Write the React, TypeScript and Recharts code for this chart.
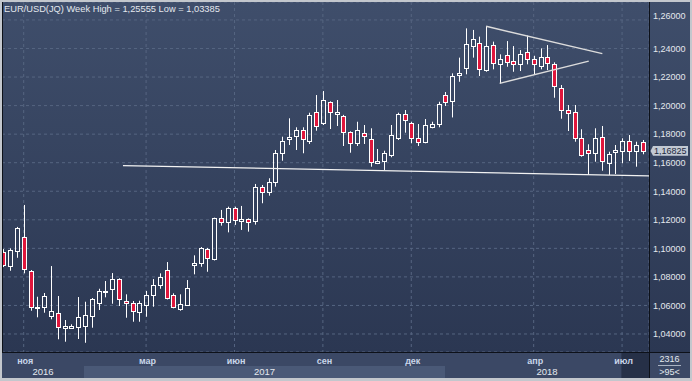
import { ComposedChart, Bar, XAxis, YAxis, CartesianGrid, ReferenceLine, ReferenceArea } from 'recharts'

// weekly EUR/USD candles
const OPEN = [
  1.0977, 1.0876, 1.0981, 1.1082, 1.0841, 1.0580, 1.0591, 1.0528, 1.0545, 1.0442,
  1.0440, 1.0451, 1.0458, 1.0528, 1.0619, 1.0699, 1.0713, 1.0785, 1.0629, 1.0617,
  1.0556, 1.0605, 1.0675, 1.0741, 1.0846, 1.0671, 1.0573, 1.0605, 1.0881, 1.0899,
  1.0995, 1.0923, 1.1210, 1.1182, 1.1281, 1.1194, 1.1203, 1.1194, 1.1428, 1.1397,
  1.1467, 1.1670, 1.1764, 1.1789, 1.1829, 1.1754, 1.1953, 1.1880, 1.2023, 1.1943,
  1.1927, 1.1813, 1.1740, 1.1806, 1.1764, 1.1596, 1.1614, 1.1654, 1.1771, 1.1939,
  1.1876, 1.1771, 1.1745, 1.1852, 1.1869, 1.2072, 1.2034, 1.2212, 1.2265, 1.2420,
  1.2436, 1.2249, 1.2424, 1.2289, 1.2354, 1.2314, 1.2289, 1.2373, 1.2326, 1.2279,
  1.2338, 1.2289, 1.2125, 1.1969, 1.1952, 1.1771, 1.1687, 1.1666, 1.1778, 1.1596,
  1.1673, 1.1680, 1.1750, 1.1684, 1.1745,
]
const HIGH = [
  1.0995, 1.1000, 1.1150, 1.1304, 1.0848, 1.0661, 1.0687, 1.0876, 1.0666, 1.0498,
  1.0468, 1.0659, 1.0626, 1.0652, 1.0717, 1.0771, 1.0827, 1.0790, 1.0678, 1.0631,
  1.0633, 1.0701, 1.0785, 1.0825, 1.0904, 1.0685, 1.0678, 1.0778, 1.0951, 1.1009,
  1.1003, 1.1215, 1.1269, 1.1292, 1.1292, 1.1297, 1.1210, 1.1451, 1.1444, 1.1491,
  1.1689, 1.1782, 1.1911, 1.1848, 1.1848, 1.1950, 1.2074, 1.2102, 1.2030, 1.2039,
  1.1935, 1.1820, 1.1887, 1.1864, 1.1841, 1.1696, 1.1684, 1.1864, 1.1950, 1.1969,
  1.1887, 1.1871, 1.1906, 1.1887, 1.2027, 1.2095, 1.2226, 1.2336, 1.2541, 1.2530,
  1.2483, 1.25555, 1.2448, 1.2359, 1.2452, 1.2417, 1.2389, 1.2490, 1.2349, 1.2401,
  1.2424, 1.2303, 1.2144, 1.2004, 1.2004, 1.1834, 1.1729, 1.1841, 1.1857, 1.1677,
  1.1724, 1.1771, 1.1794, 1.1747, 1.1759,
]
const LOW = [
  1.0869, 1.0843, 1.0934, 1.0825, 1.0563, 1.0517, 1.0549, 1.0503, 1.0363, 1.0346,
  1.0438, 1.0365, 1.03385, 1.0444, 1.0568, 1.0657, 1.0612, 1.0596, 1.0514, 1.0486,
  1.0486, 1.0521, 1.0591, 1.0717, 1.0642, 1.0580, 1.0563, 1.0600, 1.0818, 1.0871,
  1.0836, 1.0915, 1.1159, 1.1112, 1.1164, 1.1129, 1.1117, 1.1166, 1.1316, 1.1369,
  1.1432, 1.1614, 1.1724, 1.1689, 1.1666, 1.1731, 1.1824, 1.1864, 1.1836, 1.1857,
  1.1717, 1.1670, 1.1717, 1.1731, 1.1572, 1.1590, 1.1549, 1.1638, 1.1759, 1.1810,
  1.1736, 1.1717, 1.1736, 1.1841, 1.1848, 1.1997, 1.1917, 1.2167, 1.2219, 1.2336,
  1.2207, 1.2237, 1.2254, 1.2156, 1.2272, 1.2237, 1.2242, 1.2289, 1.2219, 1.2254,
  1.2249, 1.2055, 1.1908, 1.1822, 1.1747, 1.1642, 1.1514, 1.1607, 1.1544, 1.1514,
  1.1521, 1.1596, 1.1612, 1.1572, 1.1659,
]
const CLOSE = [
  1.0883, 1.0988, 1.1140, 1.0853, 1.0587, 1.0589, 1.0664, 1.0559, 1.0447, 1.0456,
  1.0456, 1.0519, 1.0533, 1.0645, 1.0701, 1.0703, 1.0785, 1.0643, 1.0615, 1.0559,
  1.0615, 1.0671, 1.0741, 1.0797, 1.0650, 1.0587, 1.0608, 1.0720, 1.0895, 1.1000,
  1.0930, 1.1210, 1.1182, 1.1281, 1.1199, 1.1203, 1.1187, 1.1428, 1.1397, 1.1467,
  1.1670, 1.1752, 1.1778, 1.1829, 1.1764, 1.1934, 1.1857, 1.2037, 1.1953, 1.1953,
  1.1817, 1.1736, 1.1827, 1.1785, 1.1607, 1.1610, 1.1666, 1.1792, 1.1941, 1.1899,
  1.1775, 1.1747, 1.1864, 1.1869, 1.2009, 1.2027, 1.2207, 1.2226, 1.2429, 1.2464,
  1.2254, 1.2417, 1.2300, 1.2324, 1.2307, 1.2293, 1.2361, 1.2324, 1.2289, 1.2338,
  1.2296, 1.2137, 1.1969, 1.1946, 1.1771, 1.1654, 1.1666, 1.1771, 1.1612, 1.1659,
  1.1687, 1.1750, 1.1684, 1.1722, 1.16825,
]

const MONTH_TICKS = [3, 21, 34, 47, 60, 78, 91]
const MONTH_LABELS = ['ноя', 'мар', 'июн', 'сен', 'дек', 'апр', 'июл']
const YEAR_LABELS = ['2016', '2017', '2018']
const YEAR_FROM = [-0.19, 11.87, 64.96]
const YEAR_TO = [11.87, 64.96, 94.96]
const PRICE_TICKS = [1.04, 1.06, 1.08, 1.1, 1.12, 1.14, 1.16, 1.18, 1.2, 1.22, 1.24, 1.26]
const X_DOMAIN = [-0.19, 94.96]
const Y_DOMAIN = [1.02739, 1.27257]

// hand drawn lines: [index, price]
const SUPPORT = [[17.6, 1.158], [94.96, 1.1507]]
const TRI_UPPER = [[71, 1.25555], [88.1, 1.2364]]
const TRI_LOWER = [[73, 1.2156], [86.1, 1.2312]]

const TITLE = 'EUR/USD(JQ) Week High = 1,25555 Low = 1,03385'
const CORNER_TOP = '2316'
const CORNER_BOTTOM = '>95<'

const RED = '#e0163c'
const TXT = '#e4e8ee'
const FONT = '"Liberation Sans", Arial, sans-serif'

const fmt = (v: number) => v.toFixed(5).replace('.', ',')

const data = OPEN.map((o, i) => ({
  i,
  open: o,
  high: HIGH[i],
  low: LOW[i],
  close: CLOSE[i],
  range: [LOW[i], HIGH[i]],
}))

function Candle(props: any) {
  const { x, y, width, height, payload } = props
  if (x == null || !payload) return null
  const { open, close, high, low } = payload
  const top0 = Math.min(y, y + height)
  const h = Math.abs(height)
  const py = (v: number) => top0 + ((high - v) / (high - low)) * h
  const cx = Math.round(x + width / 2) + 0.5
  const top = Math.round(py(Math.max(open, close))) + 0.5
  let bot = Math.round(py(Math.min(open, close))) + 0.5
  if (bot - top < 1) bot = top + 1
  const up = close >= open
  return (
    <g>
      <line x1={cx} x2={cx} y1={top0} y2={top} stroke="#fff" strokeWidth={1} />
      <line x1={cx} x2={cx} y1={bot} y2={top0 + h} stroke="#fff" strokeWidth={1} />
      <rect x={cx - 2} y={top} width={4} height={bot - top} fill={up ? 'none' : RED} stroke="#fff" strokeWidth={1} />
    </g>
  )
}

function PriceTick({ x, y, payload }: any) {
  const dy = payload.value >= 1.26 ? -4 : 0
  return (
    <text x={x + 4} y={y + 3.3 + dy} fill={TXT} fontSize={9} fontFamily={FONT}>
      {fmt(payload.value)}
    </text>
  )
}

function MonthTick({ x, y, payload }: any) {
  const k = MONTH_TICKS.indexOf(payload.value)
  return (
    <text x={x + 1.5} y={y + 12} textAnchor="middle" fill="#c9d6ea" fontSize={9} fontWeight="bold" fontFamily={FONT}>
      {MONTH_LABELS[k]}
    </text>
  )
}

function PriceTag({ viewBox, value }: any) {
  if (!viewBox) return null
  const xr = viewBox.x + viewBox.width
  const yc = viewBox.y
  return (
    <g>
      <path
        d={`M${xr + 1.5},${yc} L${xr + 4},${yc - 4.8} L${xr + 39},${yc - 4.8} L${xr + 39},${yc + 4.8} L${xr + 4},${yc + 4.8} Z`}
        fill="#c2c9d3"
      />
      <text x={xr + 5} y={yc + 3.3} fill="#1c2840" fontSize={9} fontFamily={FONT}>{value}</text>
    </g>
  )
}

export default function App() {
  const last = CLOSE[CLOSE.length - 1]
  return (
    <div
      style={{
        position: 'absolute', left: 0, top: 0, width: 692, height: 381,
        background: 'linear-gradient(to bottom, #3f4e6b 0px, #2b3752 352px, #3b4865 352px, #3b4865 381px)',
        fontFamily: FONT,
      }}
    >
      <ComposedChart width={692} height={381} data={data} margin={{ top: 2, right: 0, bottom: 3, left: 2 }}>
        <CartesianGrid stroke="#566581" strokeDasharray="3 3" />
        {YEAR_LABELS.map((lab, k) => (
          <ReferenceArea
            key={lab}
            x1={YEAR_FROM[k]}
            x2={YEAR_TO[k]}
            ifOverflow="visible"
            shape={(p: any) => {
              const b = p.y + p.height
              return (
                <g>
                  {k === 1 && <rect x={p.x} y={b + 14} width={p.width} height={12} fill="#4a5977" />}
                  <text x={p.x + p.width / 2} y={b + 22.5} textAnchor="middle" fill={TXT} fontSize={9.5} fontFamily={FONT}>
                    {lab}
                  </text>
                </g>
              )
            }}
          />
        ))}
        <ReferenceArea
          x1={90.9}
          x2={X_DOMAIN[1]}
          ifOverflow="visible"
          shape={(p: any) => (
            <rect x={p.x} y={p.y + p.height + 1} width={p.width} height={25} fill="rgba(22,30,48,0.55)" />
          )}
        />
        <XAxis
          dataKey="i"
          type="number"
          domain={X_DOMAIN}
          allowDataOverflow
          ticks={MONTH_TICKS}
          interval={0}
          height={26}
          axisLine={false}
          tickLine={false}
          tickSize={0}
          tickMargin={0}
          tick={<MonthTick />}
        />
        <YAxis
          orientation="right"
          type="number"
          domain={Y_DOMAIN}
          allowDataOverflow
          ticks={PRICE_TICKS}
          interval={0}
          width={43}
          axisLine={false}
          tickLine={false}
          tickSize={0}
          tickMargin={0}
          tick={<PriceTick />}
        />
        <Bar dataKey="range" barSize={5} isAnimationActive={false} shape={(p: any) => <Candle {...p} />} />
        <ReferenceLine
          segment={SUPPORT.map(([x, y]) => ({ x, y }))}
          stroke="#f2f2f2"
          strokeWidth={1.3}
          ifOverflow="visible"
        />
        <ReferenceLine
          segment={TRI_UPPER.map(([x, y]) => ({ x, y }))}
          stroke="#dcdcdc"
          strokeWidth={1.4}
          ifOverflow="visible"
        />
        <ReferenceLine
          segment={TRI_LOWER.map(([x, y]) => ({ x, y }))}
          stroke="#dcdcdc"
          strokeWidth={1.4}
          ifOverflow="visible"
        />
        <ReferenceLine
          y={last}
          stroke="none"
          ifOverflow="visible"
          label={(p: any) => <PriceTag {...p} value={fmt(last)} />}
        />
      </ComposedChart>

      <svg width={692} height={381} style={{ position: 'absolute', left: 0, top: 0, pointerEvents: 'none' }}>
        <text x={4} y={11.5} fill={TXT} fontSize={9.3} fontFamily={FONT}>{TITLE}</text>
        <line x1={2.5} x2={2.5} y1={2} y2={352} stroke="#0d1119" />
        <line x1={2} x2={690} y1={352.5} y2={352.5} stroke="#0d1119" />
        <line x1={649.5} x2={649.5} y1={2} y2={378} stroke="#0d1119" />
        <text x={669.5} y={362} textAnchor="middle" fill={TXT} fontSize={9} fontFamily={FONT}>{CORNER_TOP}</text>
        <line x1={658} x2={681} y1={365.5} y2={365.5} stroke="#aab3c2" />
        <text x={669.5} y={375} textAnchor="middle" fill={TXT} fontSize={9} fontFamily={FONT}>{CORNER_BOTTOM}</text>
      </svg>

      <div
        style={{
          position: 'absolute', left: 0, top: 0, width: 692, height: 381, boxSizing: 'border-box',
          border: '2px solid #c3c7cd', borderBottomWidth: 3, pointerEvents: 'none',
        }}
      />
    </div>
  )
}
